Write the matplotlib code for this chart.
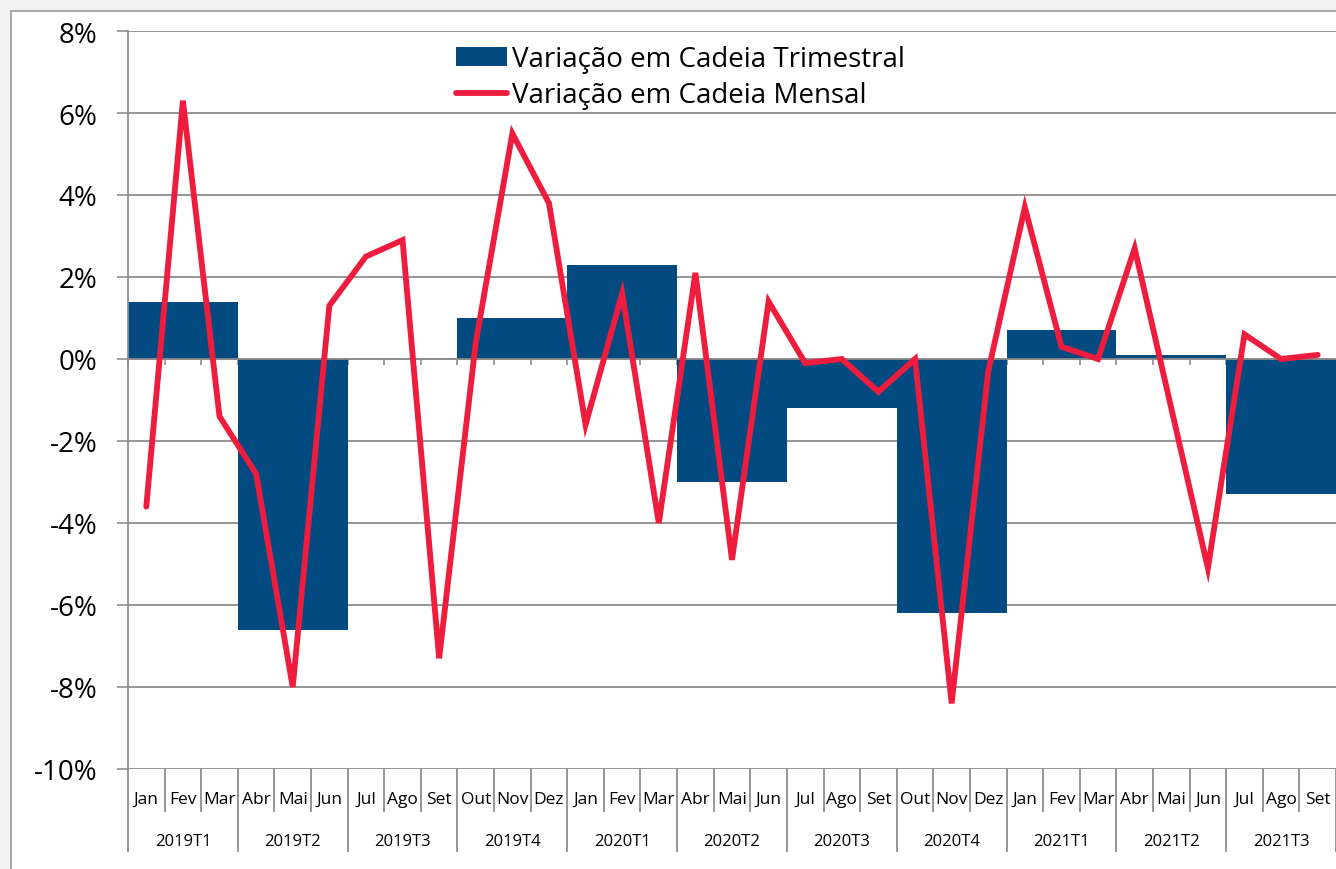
import matplotlib.pyplot as plt
from matplotlib.patches import Rectangle
from matplotlib.ticker import FixedLocator, FuncFormatter
import matplotlib.transforms as mtransforms

plt.rcParams['font.family'] = ['Open Sans', 'DejaVu Sans']

# Dados
meses = ['Jan', 'Fev', 'Mar', 'Abr', 'Mai', 'Jun', 'Jul', 'Ago', 'Set', 'Out', 'Nov', 'Dez'] * 2 + \
        ['Jan', 'Fev', 'Mar', 'Abr', 'Mai', 'Jun', 'Jul', 'Ago', 'Set']
trimestres = ['2019T1', '2019T2', '2019T3', '2019T4', '2020T1', '2020T2',
              '2020T3', '2020T4', '2021T1', '2021T2', '2021T3']
var_trimestral = [1.4, -6.6, 0.0, 1.0, 2.3, -3.0, -1.2, -6.2, 0.7, 0.1, -3.3]
var_mensal = [-3.6, 6.3, -1.4, -2.8, -8.0, 1.3, 2.5, 2.9, -7.3, 0.4, 5.5, 3.8,
              -1.6, 1.6, -4.0, 2.1, -4.9, 1.4, -0.1, 0.0, -0.8, 0.0, -8.4, -0.3,
              3.7, 0.3, 0.0, 2.7, -1.2, -5.1, 0.6, 0.0, 0.1]

COR_BARRA = '#034a80'
COR_LINHA = '#ee1c3d'
COR_GRID = '#8c8c8c'

W, H = 1336, 870
fig = plt.figure(figsize=(W / 100, H / 100), dpi=100)
fig.patch.set_facecolor('#f2f2f2')
# moldura branca do gráfico
fig.patches.append(Rectangle((11 / W, -0.1), 1.2, 1 - 12 / H + 0.1, transform=fig.transFigure,
                             facecolor='white', edgecolor='#a0a0a0', linewidth=1.3, zorder=-1))

ax = fig.add_axes([128 / W, 1 - 770 / H, 1 - 128 / W, (770 - 32) / H])
ax.set_facecolor('none')
ax.set_zorder(1)

n = len(meses)
x_meses = list(range(n))
x_trim = [3 * i + 1 for i in range(len(trimestres))]

barras = ax.bar(x_trim, var_trimestral, width=3, color=COR_BARRA, zorder=2)
linha, = ax.plot(x_meses, var_mensal, color=COR_LINHA, lw=4.2, zorder=3, solid_joinstyle='miter',
                 solid_capstyle='round')

ax.set_xlim(-0.5, n - 0.5)
ax.set_ylim(-10, 8)
ax.yaxis.set_major_locator(FixedLocator(range(-10, 9, 2)))
ax.yaxis.set_major_formatter(FuncFormatter(lambda v, p: f'{v:.0f}%'))
ax.grid(axis='y', color=COR_GRID, lw=1.3, zorder=1)
ax.set_axisbelow(True)
ax.tick_params(axis='y', length=8, width=1.2, color=COR_GRID, pad=14, labelsize=20)

for s in ['top', 'right']:
    ax.spines[s].set_visible(False)
ax.spines['left'].set_color(COR_GRID)
ax.spines['left'].set_linewidth(1.3)
ax.spines['bottom'].set_position(('data', 0))
ax.spines['bottom'].set_color(COR_GRID)
ax.spines['bottom'].set_linewidth(1.3)
ax.spines['bottom'].set_zorder(2.5)
ax.set_xticks([i - 0.5 for i in range(n + 1)])
ax.tick_params(axis='x', length=4, width=1.2, color=COR_GRID, labelbottom=False, direction='out')

# eixo de categorias por baixo do gráfico
trans = mtransforms.blended_transform_factory(ax.transData, ax.transAxes)
for i in range(n + 1):
    fim = -0.111 if i % 3 == 0 else -0.057
    ax.plot([i - 0.5, i - 0.5], [0, fim], transform=trans, color=COR_GRID, lw=1.3, clip_on=False)
for i, m in enumerate(meses):
    ax.text(i, -0.040, m, transform=trans, ha='center', va='center', fontsize=12.5)
for xt, t in zip(x_trim, trimestres):
    ax.text(xt, -0.097, t, transform=trans, ha='center', va='center', fontsize=12)

fig.legend([barras, linha], ['Variação em Cadeia Trimestral', 'Variação em Cadeia Mensal'],
           loc='upper left', bbox_to_anchor=(456 / W, 1 - 46 / H), bbox_transform=fig.transFigure,
           frameon=False, fontsize=20, handlelength=1.85, handletextpad=0.18, labelspacing=0.3,
           borderpad=0, borderaxespad=0)

fig.savefig('out.png', dpi=100, facecolor=fig.get_facecolor())
